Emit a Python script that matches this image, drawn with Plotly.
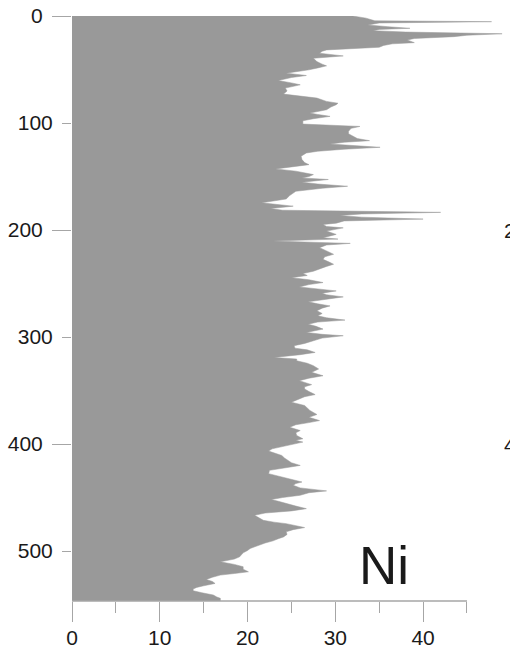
import plotly.graph_objects as go

depth = [0, 2, 4.5, 5.3, 6.5, 8.4, 10, 11.5, 12.5, 13.7, 15, 16.6, 18, 19.3, 21, 22.4, 24.9, 26, 27.5, 29.2,
         31.7, 33, 34.8, 37.3, 39.5, 42.6, 45, 46.6, 48.5, 50.3, 53.4, 55.6, 57.5, 60.3, 62.5, 64.3, 67.4, 70, 73, 75,
         76.7, 79.8, 81.5, 82.9, 85, 87.6, 90.7, 92, 93.8, 96, 97.9, 101, 103.2, 105, 107.8, 110, 112.5, 114.5, 116.5, 118,
         119.6, 121, 122.7, 124.5, 126.4, 128, 131, 134.2, 137, 138.9, 141, 142.9, 145, 148.2, 150, 151.3, 152.8, 154, 155.3, 157,
         159.1, 161, 163.8, 167.8, 171, 174.6, 176, 177.7, 180, 181.5, 183.5, 185, 186.4, 188, 189.8, 191.5, 193.6, 194.8, 196.7, 198,
         201, 204.1, 207.2, 208.5, 210.3, 211.3, 212.5, 214, 216.5, 219.5, 222.7, 225, 227.4, 230, 232, 234, 236.7, 238.5, 240.7, 242.5,
         244.5, 246.5, 249.1, 251, 253.2, 255, 256.9, 259, 260.5, 262.5, 265, 267.1, 269, 270.9, 273, 275.5, 278, 280.2, 282, 284.2,
         286, 288, 290, 292.6, 295.7, 297.5, 298.8, 301, 303.5, 306, 308.1, 310.4, 312, 314.4, 316.5, 319.1, 320.6, 322.2, 324.5, 326.8,
         329.9, 333, 336.2, 338.5, 340.8, 342.5, 344.5, 346.5, 348.5, 351, 353.8, 355.8, 357.8, 360.9, 364, 366.5, 368.6, 370.5, 372.4, 375,
         378.1, 380, 382, 384.3, 387.4, 389.5, 392, 395.1, 396.5, 398.2, 400.5, 402.9, 404.5, 406.6, 408.5, 410.7, 413, 415.3, 417.5, 420,
         422, 424.6, 427.7, 430, 432.4, 435.5, 437, 438.6, 441, 443.8, 445.5, 447.9, 450, 451.9, 453.5, 455.6, 458, 460.4, 462.5, 464.5,
         466.6, 468.5, 471.3, 473, 474.4, 476.3, 478.1, 480, 482.1, 484.5, 486.8, 488.5, 490.5, 492.5, 494.5, 496, 497.6, 499.5, 501.7, 503.5,
         505.4, 507.5, 510.1, 512.5, 514.7, 517, 519.4, 521, 522.5, 524.5, 526.5, 528.5, 530.3, 532.5, 534, 535.5, 537.1, 539, 541.1, 543,
         544.2, 546.7]

ni = [32.0, 33.5, 34.5, 47.8, 35, 33.7, 36, 38.5, 35, 34.3, 38, 49.0, 45, 43.5, 39, 38.2, 39.0, 36.5, 35.5, 35.0,
      29.0, 28.5, 28.2, 30.9, 27.5, 27.9, 28.5, 29.0, 28, 27.0, 24.4, 26.7, 25, 23.5, 25, 26.0, 24.3, 24.5, 24.1, 26,
      27.9, 29.0, 30.3, 30.1, 29.5, 29.0, 27.1, 28, 29.4, 27.5, 26.3, 26.3, 32.8, 31.8, 31.5, 31.5, 32.0, 32.5, 33.9, 31,
      29.4, 32, 35.1, 31, 28, 26.7, 26.1, 26.2, 26.5, 27.0, 25, 23.2, 25.5, 27.5, 27, 26.2, 29.2, 27.5, 26.2, 28,
      31.4, 28.5, 25.5, 24.8, 24.4, 21.6, 23.5, 25.2, 22.6, 24, 42.0, 33, 30.5, 33, 40.0, 31, 30.1, 28.6, 29.0, 30.9,
      29.0, 30.1, 28.6, 30.3, 22.9, 28, 31.7, 29, 28.2, 29, 29.8, 28.8, 28.6, 29.3, 29.8, 29.0, 28.2, 27.5, 26.3, 26.8,
      25.0, 27, 28.6, 27, 25.9, 28, 30.1, 28.5, 29, 30.9, 28.5, 26.9, 28, 29.4, 28.5, 27.9, 28.5, 28.0, 29, 31.1,
      28, 26.9, 27.8, 28.6, 26.7, 28.5, 30.9, 28.5, 27.5, 26.5, 25.3, 25.4, 26.8, 27.7, 26, 23.0, 25.6, 25.6, 26.8, 27.5,
      28.1, 27.3, 28.6, 27, 25.9, 26.5, 27.3, 26.5, 26.5, 27, 27.7, 26.5, 25.9, 25.0, 26.5, 26.8, 27.1, 27.5, 27.9, 27.0,
      28.2, 27, 25.5, 24.8, 26.0, 25.5, 25.6, 26.3, 25.5, 26.3, 25, 23.7, 22.8, 22.4, 23, 23.9, 24.2, 24.6, 25, 26.0,
      24.5, 22.5, 22.4, 23.5, 24.8, 26.2, 25.5, 25.2, 26, 29.0, 27, 26.0, 24, 22.7, 23.5, 24.6, 25.5, 26.7, 25, 22,
      20.8, 21.2, 21.8, 23, 24.4, 25.5, 26.5, 25.2, 24.4, 24.5, 24.1, 23.5, 22.9, 22, 21.4, 21, 20.3, 20, 19.5, 19.3,
      19.1, 18.5, 16.9, 18.5, 19.5, 19.5, 20.1, 18.5, 16.9, 16, 15.3, 16, 16.3, 15, 14.2, 13.8, 13.8, 14.8, 16.1, 16.5,
      16.9, 16.9]

y_major_ticks = [0, 200, 400]
y_minor_ticks = [100, 300, 500]
x_major_ticks = [0, 10, 20, 30, 40]
x_minor_ticks = [5, 15, 25, 35, 45]
label = "Ni"
neighbor_labels = ["200", "400"]
neighbor_depths = [200, 400]

FONT = "Liberation Sans, Arial, sans-serif"
GRAY = "#999999"
TICK = "#a6a6a6"
TXT = "#1a1a1a"

fig = go.Figure()
fig.add_trace(go.Scatter(x=ni, y=depth, mode="lines", fill="tozerox",
                         fillcolor=GRAY, line=dict(color=GRAY, width=0.5),
                         hoverinfo="skip", showlegend=False))
# invisible copy so the secondary depth axis is drawn
fig.add_trace(go.Scatter(x=ni, y=depth, mode="lines", yaxis="y2",
                         line=dict(color="rgba(0,0,0,0)", width=0),
                         hoverinfo="skip", showlegend=False))

fig.update_layout(
    width=510, height=657,
    margin=dict(l=72, r=0, t=16, b=56),
    paper_bgcolor="white", plot_bgcolor="white",
    font=dict(family=FONT, size=21, color=TXT),
    xaxis=dict(range=[0, 49.9], tickvals=x_major_ticks, ticks="outside", ticklen=20,
               tickcolor=TICK, tickwidth=1, showgrid=False, zeroline=False,
               showline=False, ticklabelstandoff=-2,
               minor=dict(tickvals=x_minor_ticks, ticks="outside", ticklen=11,
                          tickcolor=TICK, tickwidth=1, showgrid=False)),
    yaxis=dict(range=[546.7, 0], tickvals=y_major_ticks, ticks="outside", ticklen=19,
               tickcolor=TICK, tickwidth=1, showgrid=False, zeroline=False,
               showline=False, ticklabelstandoff=5),
    yaxis2=dict(range=[546.7, 0], overlaying="y", side="left", tickvals=y_minor_ticks,
                ticks="outside", ticklen=9, tickcolor=TICK, tickwidth=1,
                showgrid=False, zeroline=False, showline=False, ticklabelstandoff=5),
)

# bottom axis line stops at 45
fig.add_shape(type="line", xref="x", yref="paper", x0=0, x1=45, y0=0, y1=0,
              line=dict(color=TICK, width=1.5))

fig.add_annotation(x=35.5, y=513.5, xref="x", yref="y", text=label, showarrow=False,
                   xanchor="center", yanchor="middle",
                   font=dict(family=FONT, size=53, color=TXT))

for t, d in zip(neighbor_labels, neighbor_depths):
    fig.add_annotation(x=49.0, y=d, xref="x", yref="y", text=t, showarrow=False,
                       xanchor="left", yanchor="middle",
                       font=dict(family=FONT, size=21, color=TXT))

fig.write_html("out.html", config={"displayModeBar": False},
               post_script="document.body.style.margin='0';")
